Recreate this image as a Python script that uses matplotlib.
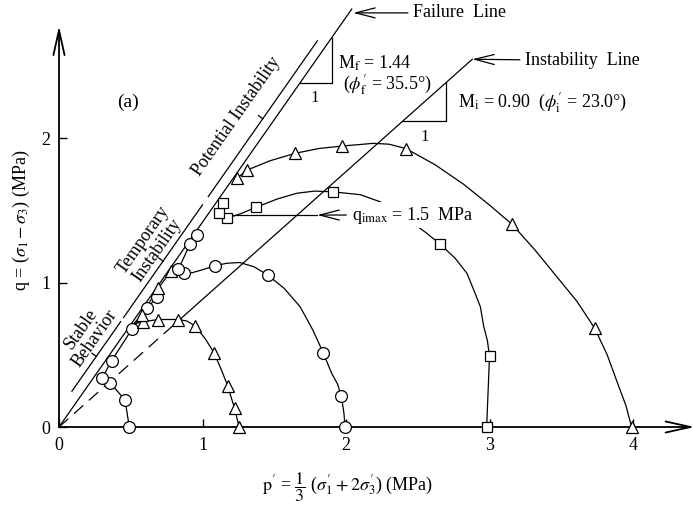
import matplotlib
matplotlib.use('Agg')
import matplotlib.pyplot as plt

plt.rcParams['font.family'] = ['Liberation Serif', 'DejaVu Serif']
plt.rcParams['mathtext.fontset'] = 'stix'

# ------------------------------------------------------------------
# values (p' and q in MPa)
# ------------------------------------------------------------------
M_FAIL = 1.42          # failure line slope as drawn
M_INST = 0.885         # instability line slope as drawn
FAIL_P_END = 2.04
INST_P_END = 2.88
INST_P_DASH_END = 0.80
INST_P_SOLID_START = 0.83

# line parallel to the failure line, split in three braces
BRACE_OFFSET = 0.12
BRACE_P_START = [0.09, 0.45, 1.04]
BRACE_P_END = [0.43, 1.00, 1.80]

# path 1 - circles from p' = 0.5
c1_p = [0.49, 0.46, 0.356, 0.30, 0.367, 0.51, 0.616, 0.68]
c1_q = [0.0, 0.187, 0.307, 0.337, 0.46, 0.68, 0.822, 0.90]

# path 2 - triangles from p' = 1.25
t1_line_p = [1.255, 1.223, 1.176, 1.13, 1.08, 1.02, 0.95, 0.89, 0.83, 0.69, 0.588, 0.52,
             0.576, 0.69, 0.78]
t1_line_q = [0.0, 0.13, 0.284, 0.40, 0.515, 0.61, 0.70, 0.735, 0.745, 0.745, 0.73, 0.715,
             0.776, 0.96, 1.08]
t1_p = [1.255, 1.223, 1.176, 1.08, 0.95, 0.83, 0.69, 0.588, 0.576, 0.69, 0.78]
t1_q = [0.0, 0.13, 0.284, 0.515, 0.70, 0.745, 0.745, 0.73, 0.776, 0.96, 1.08]

# path 3 - circles from p' = 2.0
c2_line_p = [1.994, 1.985, 1.967, 1.94, 1.90, 1.843, 1.77, 1.68, 1.57, 1.455, 1.36, 1.26,
             1.17, 1.088, 1.0, 0.93, 0.879, 0.832, 0.913, 0.965]
c2_line_q = [0.0, 0.10, 0.215, 0.30, 0.372, 0.51, 0.67, 0.834, 0.96, 1.053, 1.11, 1.14,
             1.135, 1.118, 1.09, 1.07, 1.065, 1.093, 1.268, 1.33]
c2_p = [1.994, 1.967, 1.843, 1.455, 1.088, 0.872, 0.832, 0.913, 0.965]
c2_q = [0.0, 0.215, 0.51, 1.053, 1.118, 1.065, 1.093, 1.268, 1.33]

# path 4 - squares from p' = 3.0
s_line_p = [2.98, 3.0, 2.985, 2.96, 2.936, 2.89, 2.843, 2.76, 2.657, 2.56, 2.47, 2.35,
            2.238, 2.10, 1.908, 1.78, 1.657, 1.52, 1.374, 1.27, 1.169, 1.118, 1.146]
s_line_q = [0.0, 0.49, 0.60, 0.695, 0.834, 0.95, 1.065, 1.17, 1.266, 1.345, 1.41, 1.49,
            1.561, 1.61, 1.63, 1.635, 1.62, 1.58, 1.523, 1.48, 1.446, 1.481, 1.55]
s_p = [2.98, 3.0, 2.657, 1.908, 1.374, 1.169, 1.118, 1.146]
s_q = [0.0, 0.49, 1.266, 1.63, 1.523, 1.446, 1.481, 1.55]

# path 5 - triangles from p' = 4.0
t2_line_p = [3.99, 3.95, 3.89, 3.82, 3.733, 3.61, 3.47, 3.32, 3.157, 3.0, 2.82, 2.62,
             2.417, 2.30, 2.19, 1.971, 1.81, 1.646, 1.47, 1.309, 1.239]
t2_line_q = [0.0, 0.15, 0.31, 0.50, 0.684, 0.87, 1.04, 1.223, 1.405, 1.538, 1.682, 1.818,
             1.93, 1.96, 1.966, 1.947, 1.93, 1.897, 1.845, 1.78, 1.723]
t2_p = [3.99, 3.733, 3.157, 2.417, 1.971, 1.646, 1.309, 1.239]
t2_q = [0.0, 0.684, 1.405, 1.93, 1.947, 1.897, 1.78, 1.723]

Q_IMAX = 1.469
X_TICKS = [0, 1, 2, 3, 4]
Y_TICKS = [0, 1, 2]

# ------------------------------------------------------------------
fig = plt.figure(figsize=(6.93, 5.07), dpi=100)
ax = fig.add_axes([59 / 693, 80 / 507, 638.6 / 693, 404 / 507])
ax.set_xlim(0, 4.45)
ax.set_ylim(0, 2.8)
for s in ax.spines.values():
    s.set_visible(False)

ax.set_xticks(X_TICKS)
ax.set_yticks(Y_TICKS)
ax.tick_params(direction='in', length=6, width=1, labelsize=13)
ax.tick_params(axis='x', pad=7)
ax.tick_params(axis='y', pad=6)

# axes drawn as arrows
arrow_kw = dict(arrowstyle='->,head_length=0.9,head_width=0.2', lw=1.3, color='k',
                shrinkA=0, shrinkB=0, mutation_scale=20)
ax.annotate('', xy=(0, 2.78), xytext=(0, 0), arrowprops=arrow_kw, annotation_clip=False)
ax.annotate('', xy=(4.43, 0), xytext=(0, 0), arrowprops=arrow_kw, annotation_clip=False)

lw = 0.9
# failure line
ax.plot([0, FAIL_P_END], [0, FAIL_P_END * M_FAIL], color='k', lw=lw, clip_on=False)
# instability line: dashed near the origin, solid beyond
ax.plot([0, INST_P_DASH_END], [0, INST_P_DASH_END * M_INST], color='k', lw=lw,
        dashes=(10, 6))
ax.plot([INST_P_SOLID_START, INST_P_END], [INST_P_SOLID_START * M_INST, INST_P_END * M_INST],
        color='k', lw=lw, clip_on=False)

# braces
for p0, p1 in zip(BRACE_P_START, BRACE_P_END):
    ax.plot([p0, p1], [p0 * M_FAIL + BRACE_OFFSET, p1 * M_FAIL + BRACE_OFFSET],
            color='k', lw=lw, clip_on=False)
    pm = (p0 + p1) / 2
    qm = pm * M_FAIL + BRACE_OFFSET
    ax.plot([pm, pm - 0.03], [qm, qm + 0.022], color='k', lw=lw)

rot = 55
ax.text(0.20, 0.645, 'Stable\nBehavior', rotation=rot, rotation_mode='anchor',
        ha='center', va='center', fontsize=13, linespacing=1.0)
ax.text(0.635, 1.26, 'Temporary\nInstability', rotation=rot, rotation_mode='anchor',
        ha='center', va='center', fontsize=13, linespacing=1.0)
ax.text(1.24, 2.15, 'Potential Instability', rotation=rot, rotation_mode='anchor',
        ha='center', va='center', fontsize=13)

# stress paths
def draw_path(lp, lq, mp, mq, marker, ms):
    ax.plot(lp, lq, color='k', lw=lw, zorder=2, clip_on=False)
    ax.plot(mp, mq, ls='none', marker=marker, ms=ms, mfc='white', mec='k',
            mew=0.9, zorder=3, clip_on=False)

draw_path(c1_p, c1_q, c1_p, c1_q, 'o', 8.5)
draw_path(t1_line_p, t1_line_q, t1_p, t1_q, '^', 9)
draw_path(c2_line_p, c2_line_q, c2_p, c2_q, 'o', 8.5)
draw_path(s_line_p, s_line_q, s_p, s_q, 's', 6.5)
draw_path(t2_line_p, t2_line_q, t2_p, t2_q, '^', 9)

# slope triangles
ax.plot([1.68, 1.90, 1.90], [1.68 * M_FAIL, 1.68 * M_FAIL, 1.90 * M_FAIL], color='k', lw=lw)
ax.text(1.785, 2.28, '1', ha='center', va='center', fontsize=12)
ax.plot([2.40, 2.70, 2.70], [2.40 * M_INST, 2.40 * M_INST, 2.70 * M_INST], color='k', lw=lw)
ax.text(2.55, 2.01, '1', ha='center', va='center', fontsize=12)

ax.text(1.946, 2.52, r'M$_\mathrm{f}$ = 1.44', ha='left', va='center', fontsize=13)
ax.text(1.98, 2.37, r"($\phi_\mathrm{f}'$ = 35.5°)", ha='left', va='center', fontsize=13)
ax.text(2.78, 2.245, r"M$_\mathrm{i}$ = 0.90  ($\phi_\mathrm{i}'$ = 23.0°)", ha='left',
        va='center', fontsize=13)
ax.text(0.48, 2.25, '(a)', ha='center', va='center', fontsize=14)

lbl_arrow = dict(arrowstyle='->,head_length=0.7,head_width=0.18', lw=lw, color='k',
                 shrinkA=2, shrinkB=0, mutation_scale=20)
ax.annotate('Failure  Line', xy=(2.05, 2.87), xytext=(2.47, 2.87), ha='left', va='center',
            fontsize=13, arrowprops=lbl_arrow, annotation_clip=False)
ax.annotate('Instability  Line', xy=(INST_P_END, INST_P_END * M_INST), xytext=(3.25, 2.54),
            ha='left', va='center', fontsize=13, arrowprops=lbl_arrow, annotation_clip=False)

ax.plot([1.17, 1.80], [Q_IMAX, Q_IMAX], color='k', lw=lw)
ax.annotate(r'q$_\mathrm{imax}$ = 1.5  MPa', xy=(1.80, Q_IMAX), xytext=(2.04, Q_IMAX),
            ha='left', va='center', fontsize=13, zorder=5,
            bbox=dict(facecolor='white', edgecolor='none', pad=2),
            arrowprops=lbl_arrow)

fig.text(21 / 693, 1 - 220 / 507, r'q = ($\sigma_1 - \sigma_3$) (MPa)', rotation=90,
         ha='center', va='center', fontsize=13)
fig.text(348 / 693, 1 - 487 / 507,
         r"$\mathrm{p}'$ = $\dfrac{1}{3}$ ($\sigma_1' + 2\sigma_3'$) (MPa)",
         ha='center', va='center', fontsize=13)

fig.savefig('out.png', dpi=100)
